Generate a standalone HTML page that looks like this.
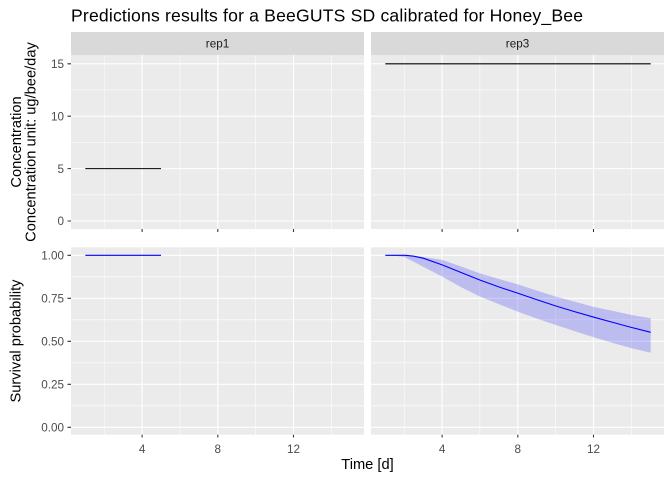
<!DOCTYPE html>
<html><head><meta charset="utf-8"><style>
html,body{margin:0;padding:0;background:#fff;}
svg{display:block;}
text{font-family:"Liberation Sans",Arial,sans-serif;}
</style></head><body>
<svg width="672" height="480" viewBox="0 0 672 480" xmlns="http://www.w3.org/2000/svg">
<rect width="672" height="480" fill="#fff"/>
<text x="71" y="21.7" font-size="17.6" fill="#000" textLength="512" lengthAdjust="spacing">Predictions results for a BeeGUTS SD calibrated for Honey_Bee</text>

<!-- strips -->
<rect x="71" y="32" width="293" height="23" fill="#d9d9d9"/>
<rect x="371" y="32" width="293" height="23" fill="#d9d9d9"/>
<text x="217.5" y="47.5" font-size="11.7" fill="#1a1a1a" text-anchor="middle">rep1</text>
<text x="517.5" y="47.5" font-size="11.7" fill="#1a1a1a" text-anchor="middle">rep3</text>

<!-- panels background -->
<rect x="71" y="55" width="293" height="174" fill="#ebebeb"/>
<rect x="371" y="55" width="293" height="174" fill="#ebebeb"/>
<rect x="71" y="247.3" width="293" height="187.4" fill="#ebebeb"/>
<rect x="371" y="247.3" width="293" height="187.4" fill="#ebebeb"/>

<g id="grid" stroke="#fff" fill="none">
<g stroke-width="0.53">
<path d="M71 194.8H364M71 142.4H364M71 89.9H364M371 194.8H664M371 142.4H664M371 89.9H664"/>
<path d="M71 405.8H364M71 362.8H364M71 319.8H364M71 276.8H364M371 405.8H664M371 362.8H664M371 319.8H664M371 276.8H664"/>
<path d="M104.2 55V229M179.9 55V229M255.6 55V229M331.3 55V229M404.2 55V229M479.9 55V229M555.6 55V229M631.3 55V229"/>
<path d="M104.2 247.3V434.7M179.9 247.3V434.7M255.6 247.3V434.7M331.3 247.3V434.7M404.2 247.3V434.7M479.9 247.3V434.7M555.6 247.3V434.7M631.3 247.3V434.7"/>
</g>
<g stroke-width="1.07">
<path d="M71 221H364M71 168.6H364M71 116.2H364M71 63.8H364M371 221H664M371 168.6H664M371 116.2H664M371 63.8H664"/>
<path d="M71 427.3H364M71 384.3H364M71 341.3H364M71 298.3H364M71 255.3H364M371 427.3H664M371 384.3H664M371 341.3H664M371 298.3H664M371 255.3H664"/>
<path d="M142.1 55V229M217.8 55V229M293.5 55V229M442.1 55V229M517.8 55V229M593.5 55V229"/>
<path d="M142.1 247.3V434.7M217.8 247.3V434.7M293.5 247.3V434.7M442.1 247.3V434.7M517.8 247.3V434.7M593.5 247.3V434.7"/>
</g>
</g>

<!-- data -->
<path d="M85.3 168.6H161" stroke="#000" stroke-width="1.07" fill="none"/>
<path d="M385.3 63.8H650.7" stroke="#000" stroke-width="1.07" fill="none"/>
<path d="M85.3 255.3H161" stroke="#0000ff" stroke-width="1.07" fill="none"/>

<polygon fill="#0000ff" fill-opacity="0.2" points="385.3,255.3 404.3,255.3 413.7,255.8 423.2,257.0 442.2,259.9 461.1,266.5 480.1,273.4 499.1,279.0 518.0,284.4 537.0,290.6 555.9,296.6 574.9,301.7 593.8,306.9 612.8,310.9 631.7,315.0 650.7,318.3 650.7,352.7 631.7,348.2 612.8,343.0 593.8,337.3 574.9,331.3 555.9,325.0 537.0,318.6 518.0,311.7 499.1,304.3 480.1,296.6 461.1,287.1 442.2,276.6 423.2,266.7 413.7,261.7 404.3,257.0 394.8,255.8 385.3,255.3"/>
<polyline fill="none" stroke="#0000ff" stroke-width="1.07" points="385.3,255.3 405.7,255.3 413.7,256.2 423.2,258.2 442.2,264.9 461.1,272.5 480.1,280.1 499.1,287.0 518.0,293.3 537.0,299.8 555.9,306.0 574.9,311.7 593.8,317.2 612.8,322.4 631.7,327.5 650.7,332.3"/>

<!-- ticks -->
<g stroke="#333" stroke-width="1.07">
<path d="M67.5 221H71M67.5 168.6H71M67.5 116.2H71M67.5 63.8H71"/>
<path d="M67.5 427.3H71M67.5 384.3H71M67.5 341.3H71M67.5 298.3H71M67.5 255.3H71"/>
<path d="M142.1 229V232M217.8 229V232M293.5 229V232M442.1 229V232M517.8 229V232M593.5 229V232"/>
<path d="M142.1 434.7V437.5M217.8 434.7V437.5M293.5 434.7V437.5M442.1 434.7V437.5M517.8 434.7V437.5M593.5 434.7V437.5"/>
</g>

<g font-size="11.7" fill="#4d4d4d" text-anchor="end">
<text x="64" y="225.2">0</text>
<text x="64" y="172.8">5</text>
<text x="64" y="120.4">10</text>
<text x="64" y="68">15</text>
<text x="64" y="431.5">0.00</text>
<text x="64" y="388.5">0.25</text>
<text x="64" y="345.5">0.50</text>
<text x="64" y="302.5">0.75</text>
<text x="64" y="259.5">1.00</text>
</g>
<g font-size="11.7" fill="#4d4d4d" text-anchor="middle">
<text x="142.1" y="453">4</text>
<text x="217.8" y="453">8</text>
<text x="293.5" y="453">12</text>
<text x="442.1" y="453">4</text>
<text x="517.8" y="453">8</text>
<text x="593.5" y="453">12</text>
</g>

<text x="367.5" y="469" font-size="14.67" fill="#000" text-anchor="middle">Time [d]</text>
<text transform="translate(20.5,341) rotate(-90)" font-size="14.67" fill="#000" text-anchor="middle">Survival probability</text>
<text transform="translate(21,142) rotate(-90)" font-size="14.67" fill="#000" text-anchor="middle">Concentration</text>
<text transform="translate(35.5,142) rotate(-90)" font-size="14.67" fill="#000" text-anchor="middle">Concentration unit: ug/bee/day</text>
</svg>
</body></html>
